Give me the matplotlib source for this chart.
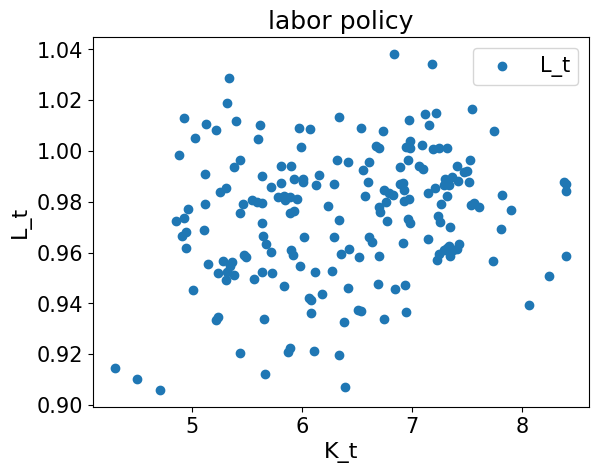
import matplotlib
matplotlib.use('Agg')
import matplotlib.pyplot as plt

# capital stock K_t and labor L_t
K_t = [
    5.330, 5.318, 4.921, 5.127, 5.212, 5.394, 5.612, 5.594, 5.021, 4.875,
    5.975, 6.075, 6.336, 5.994, 5.430, 5.375, 5.112, 5.803, 5.903, 5.630,
    6.318, 6.421, 6.157, 5.930, 6.006, 6.006, 5.812, 5.712, 6.130, 6.294,
    5.303, 5.248, 5.779, 5.839, 5.885, 5.848, 5.957, 5.545, 5.588, 5.634,
    5.457, 5.112, 4.957, 6.239, 5.430, 5.885, 5.930, 4.921, 4.848, 6.336,
    5.630, 4.945, 4.909, 5.103, 5.648, 5.673, 5.721, 6.021, 6.294, 4.939,
    5.900, 5.921, 6.357, 6.430, 5.473, 5.485, 5.145, 5.282, 5.357, 5.339,
    5.236, 5.315, 5.379, 5.303, 5.630, 5.730, 5.564, 5.982, 6.121, 6.275,
    5.839, 5.003, 6.415, 6.061, 6.085, 6.185, 6.085, 5.236, 5.218, 5.655,
    6.385, 5.885, 5.875, 6.112, 6.336, 5.430, 4.300, 4.494, 4.709, 5.664,
    6.391, 6.836, 7.185, 7.548, 7.121, 7.221, 6.975, 7.157, 7.748, 6.536,
    6.736, 6.673, 6.703, 6.982, 6.945, 6.985, 7.091, 7.191, 7.245, 7.321,
    6.612, 6.557, 6.966, 6.894, 7.064, 7.103, 7.412, 7.530, 7.473, 7.503,
    6.603, 6.915, 6.894, 6.930, 6.743, 6.794, 6.830, 7.300, 7.366, 7.421,
    7.521, 7.288, 7.334, 7.212, 7.148, 7.321, 6.575, 8.382, 8.406, 8.400,
    7.821, 6.930, 6.973, 7.266, 6.764, 6.700, 6.709, 7.536, 7.566, 7.612,
    7.900, 6.775, 6.964, 6.985, 7.236, 7.255, 7.345, 7.812, 6.612, 6.636,
    6.921, 7.148, 6.521, 6.703, 7.245, 7.288, 7.321, 7.339, 7.375, 7.406,
    7.430, 7.348, 7.230, 7.736, 8.400, 8.245, 6.694, 6.845, 6.939, 6.509,
    6.539, 6.945, 6.748, 8.064,
]

L_t = [
    1.0286, 1.0188, 1.0129, 1.0105, 1.0083, 1.0118, 1.0101, 1.0046, 1.0050, 0.9983,
    1.0089, 1.0085, 1.0133, 1.0015, 0.9965, 0.9936, 0.9908, 0.9941, 0.9941, 0.9902,
    0.9965, 0.9956, 0.9905, 0.9889, 0.9889, 0.9879, 0.9873, 0.9857, 0.9865, 0.9869,
    0.9853, 0.9838, 0.9818, 0.9824, 0.9820, 0.9805, 0.9810, 0.9806, 0.9800, 0.9794,
    0.9792, 0.9792, 0.9771, 0.9783, 0.9755, 0.9757, 0.9764, 0.9735, 0.9725, 0.9729,
    0.9716, 0.9679, 0.9666, 0.9687, 0.9666, 0.9634, 0.9603, 0.9661, 0.9661, 0.9619,
    0.9611, 0.9591, 0.9595, 0.9614, 0.9591, 0.9582, 0.9556, 0.9568, 0.9564, 0.9545,
    0.9520, 0.9525, 0.9512, 0.9493, 0.9524, 0.9520, 0.9497, 0.9548, 0.9524, 0.9528,
    0.9469, 0.9453, 0.9460, 0.9421, 0.9413, 0.9438, 0.9362, 0.9346, 0.9336, 0.9339,
    0.9328, 0.9225, 0.9209, 0.9214, 0.9198, 0.9205, 0.9147, 0.9102, 0.9059, 0.9123,
    0.9072, 1.0382, 1.0342, 1.0164, 1.0146, 1.0150, 1.0122, 1.0101, 1.0079, 1.0091,
    1.0079, 1.0020, 1.0011, 1.0041, 1.0017, 1.0011, 1.0023, 1.0007, 1.0011, 1.0011,
    0.9956, 0.9925, 0.9965, 0.9937, 0.9941, 0.9929, 0.9941, 0.9965, 0.9919, 0.9921,
    0.9878, 0.9875, 0.9869, 0.9847, 0.9847, 0.9834, 0.9826, 0.9891, 0.9898, 0.9882,
    0.9877, 0.9866, 0.9866, 0.9855, 0.9834, 0.9824, 0.9824, 0.9878, 0.9870, 0.9844,
    0.9828, 0.9803, 0.9810, 0.9792, 0.9800, 0.9781, 0.9761, 0.9788, 0.9794, 0.9779,
    0.9767, 0.9725, 0.9733, 0.9718, 0.9742, 0.9722, 0.9700, 0.9691, 0.9663, 0.9642,
    0.9638, 0.9653, 0.9583, 0.9587, 0.9595, 0.9608, 0.9617, 0.9627, 0.9611, 0.9614,
    0.9634, 0.9588, 0.9570, 0.9568, 0.9587, 0.9509, 0.9477, 0.9456, 0.9473, 0.9375,
    0.9371, 0.9367, 0.9339, 0.9393,
]


def main():
    plt.rcParams['font.size'] = 15

    fig = plt.figure(figsize=(6.4, 4.8), dpi=100)
    ax = fig.add_subplot(111)

    ax.scatter(K_t, L_t, label='L_t')
    ax.set_title('labor policy', fontsize=18)
    ax.set_xlabel('K_t', fontsize=16)
    ax.set_ylabel('L_t', fontsize=16)
    ax.legend()

    fig.savefig('out.png', dpi=100, bbox_inches='tight')


if __name__ == '__main__':
    main()
